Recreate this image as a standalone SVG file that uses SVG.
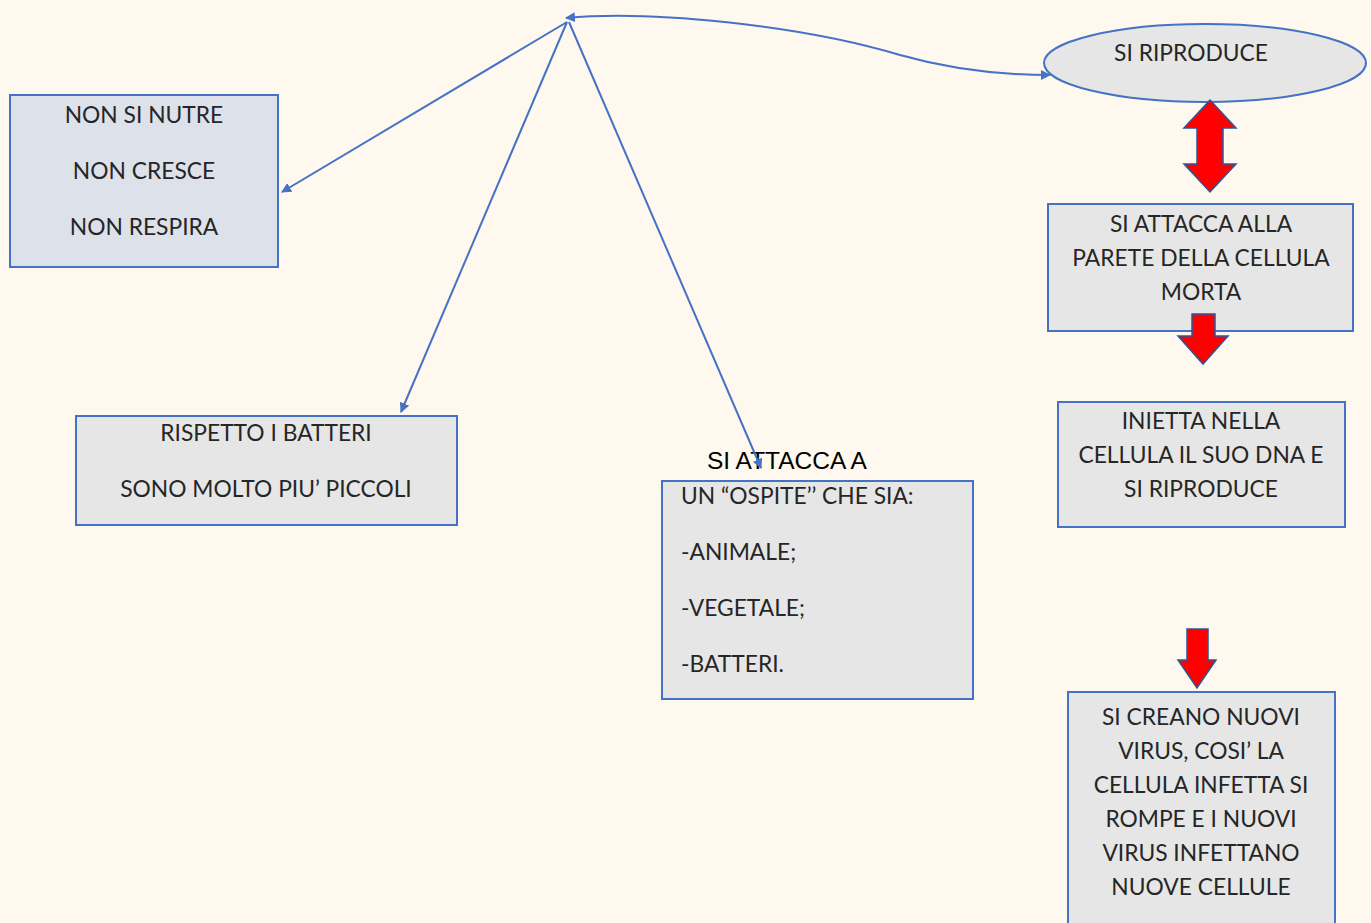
<svg xmlns="http://www.w3.org/2000/svg" width="1371" height="923" viewBox="0 0 1371 923">
<style>
.box{fill:#E6E6E6;stroke:#4472C4;stroke-width:2}
.boxb{fill:#DDE1EA;stroke:#4472C4;stroke-width:2}
.t{font-family:Lato,"Liberation Sans",sans-serif;font-size:22.8px;fill:#262626}
.c{text-anchor:middle}
.conn{fill:none;stroke:#4472C4;stroke-width:2}
.red{fill:#FF0000;stroke:#2F5597;stroke-width:1.5}
</style>
<defs>
<marker id="ah" viewBox="0 0 10 10" refX="9" refY="5" markerWidth="5" markerHeight="5" orient="auto-start-reverse">
<path d="M0,0 L10,5 L0,10 z" fill="#4472C4"/>
</marker>
</defs>
<rect width="1371" height="923" fill="#FEF8EE"/>
<g id="n-riproduce">
<ellipse class="box" cx="1205" cy="63" rx="161" ry="39"/>
<text class="t c" x="1191" y="61">SI RIPRODUCE</text>
</g>
<g id="a-double">
<path class="red" d="M1210,100 L1236,128 L1223,128 L1223,164 L1236,164 L1210,192 L1184,164 L1197,164 L1197,128 L1184,128 z"/>
</g>
<g id="n-nutre">
<rect class="boxb" x="10" y="95" width="268" height="172"/>
<text class="t c" x="144" y="123">NON SI NUTRE</text>
<text class="t c" x="144" y="179">NON CRESCE</text>
<text class="t c" x="144" y="235">NON RESPIRA</text>
</g>
<g id="n-batteri">
<rect class="box" x="76" y="416" width="381" height="109"/>
<text class="t c" x="266" y="441">RISPETTO I BATTERI</text>
<text class="t c" x="266" y="497">SONO MOLTO PIU’ PICCOLI</text>
</g>
<g id="n-ospite">
<rect class="box" x="662" y="481" width="311" height="218"/>
<text class="t" x="681" y="504">UN “OSPITE’’ CHE SIA:</text>
<text class="t" x="681" y="560">-ANIMALE;</text>
<text class="t" x="681" y="616">-VEGETALE;</text>
<text class="t" x="681" y="672">-BATTERI.</text>
</g>
<g id="l-attacca">
<text x="707" y="469" font-family="Liberation Sans, sans-serif" font-size="24.5" fill="#000">SI ATTACCA A</text>
</g>
<g id="n-parete">
<rect class="box" x="1048" y="204" width="305" height="127"/>
<text class="t c" x="1201" y="232">SI ATTACCA ALLA</text>
<text class="t c" x="1201" y="266">PARETE DELLA CELLULA</text>
<text class="t c" x="1201" y="300">MORTA</text>
</g>
<g id="a-down1">
<path class="red" d="M1192,314 L1215,314 L1215,336 L1228,336 L1203,364 L1178,336 L1192,336 z"/>
</g>
<g id="n-inietta">
<rect class="box" x="1058" y="402" width="287" height="125"/>
<text class="t c" x="1201" y="429">INIETTA NELLA</text>
<text class="t c" x="1201" y="463">CELLULA IL SUO DNA E</text>
<text class="t c" x="1201" y="497">SI RIPRODUCE</text>
</g>
<g id="a-down2">
<path class="red" d="M1187,629 L1208,629 L1208,660 L1216,660 L1197,688 L1178,660 L1187,660 z"/>
</g>
<g id="n-virus">
<rect class="box" x="1068" y="692" width="267" height="240"/>
<text class="t c" x="1201" y="725">SI CREANO NUOVI</text>
<text class="t c" x="1201" y="759">VIRUS, COSI’ LA</text>
<text class="t c" x="1201" y="793">CELLULA INFETTA SI</text>
<text class="t c" x="1201" y="827">ROMPE E I NUOVI</text>
<text class="t c" x="1201" y="861">VIRUS INFETTANO</text>
<text class="t c" x="1201" y="895">NUOVE CELLULE</text>
</g>
<g id="connectors">
<line class="conn" x1="567" y1="22" x2="282" y2="192" marker-end="url(#ah)"/>
<line class="conn" x1="567" y1="22" x2="401" y2="412" marker-end="url(#ah)"/>
<line class="conn" x1="569" y1="22" x2="761" y2="468" marker-end="url(#ah)"/>
<path class="conn" d="M566,18 C650,10 800,25 900,55 C960,72 1010,75 1050,75" marker-start="url(#ah)" marker-end="url(#ah)"/>
</g>
</svg>
